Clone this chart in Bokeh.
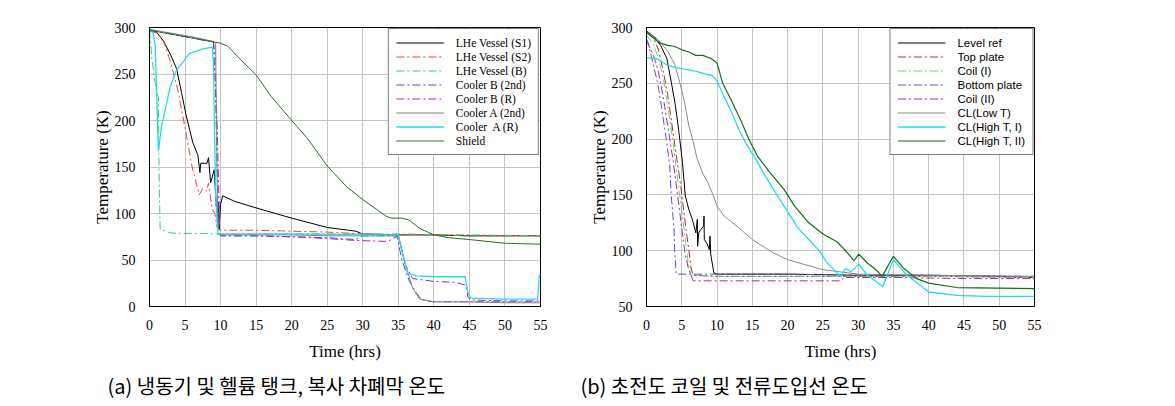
from bokeh.plotting import figure
from bokeh.layouts import row
from bokeh.models import Legend, LegendItem, Title, FixedTicker
from bokeh.embed import file_html
from bokeh.resources import INLINE

# ---------------- Data: panel (a) ----------------
a_s1_t = [0, 1, 2, 3, 3.8, 4.5, 5.2, 6.1, 6.8, 7.1, 7.2, 8.1, 8.3, 8.6, 9.1, 9.4, 9.6, 9.7, 9.8, 10.0, 10.3, 12, 15, 20, 25, 28, 29, 30, 35, 40, 45, 50, 55]
a_s1_T = [297, 295, 285, 270, 256, 230, 204, 176, 163, 144, 154, 154, 160, 133, 147, 108, 100, 112, 84, 110, 119, 113, 106, 95, 85, 82, 81, 78, 77, 77, 76, 76, 76]

a_s2_t = [0, 1, 2, 3, 4, 5, 6, 7, 7.5, 8, 8.3, 8.8, 9.2, 9.5, 10, 15, 20, 25, 30, 35, 40, 45, 50, 55]
a_s2_T = [297, 294, 285, 262, 232, 192, 150, 120, 127, 124, 133, 105, 100, 85, 82, 82, 81, 80, 78, 77, 77, 76, 76, 76]

a_b_t = [0, 0.3, 0.6, 1.0, 1.25, 1.3, 1.4, 1.5, 3, 10, 20, 30, 35, 45, 55]
a_b_T = [297, 270, 250, 230, 225, 167, 120, 83, 79, 78, 78, 78, 78, 77, 76]

a_cb2_t = [0, 3, 6, 9, 9.2, 9.5, 9.8, 10, 15, 20, 25, 29, 30, 34.8, 35.5, 36.5, 37.5, 38.3, 40, 45, 50, 55]
a_cb2_T = [297, 293, 289, 284, 270, 150, 80, 76, 76, 75, 74, 72, 76, 76, 50, 28, 15, 7, 5, 5, 5, 5]

a_cbr_t = [0, 3, 6, 9, 9.1, 9.5, 9.9, 10.2, 15, 20, 25, 29, 33.5, 35, 36, 37, 40, 43, 44.5, 44.8, 45.2, 50, 55]
a_cbr_T = [297, 293, 289, 284, 262, 200, 78, 76, 76, 75, 73, 71, 70, 76, 45, 30, 27, 26, 23, 10, 7, 6, 6]

a_ca2_t = [0, 3, 6, 9, 9.3, 9.6, 10, 15, 20, 25, 30, 35, 36, 37, 38, 40, 45, 50, 55]
a_ca2_T = [298, 294, 290, 285, 283, 78, 77, 77, 77, 76, 76, 76, 45, 20, 8, 5, 5, 4, 4]

a_car_t = [0, 0.5, 0.8, 1.25, 1.7, 2.9, 3.8, 5.6, 7.5, 8.85, 9.0, 9.3, 9.6, 10, 20, 30, 35, 35.5, 36.3, 37.5, 40, 44.4, 44.8, 45.2, 50, 54.6, 54.8, 55]
a_car_T = [296, 295, 280, 167, 194, 236, 254, 272, 277, 279, 260, 120, 78, 78, 78, 77, 77, 60, 36, 33, 32, 32, 15, 9, 8, 8, 33, 33]

a_sh_t = [0, 3, 5, 8, 10, 11, 13, 15, 17.1, 20, 22.2, 25, 27.7, 30, 33.3, 34, 35.5, 36.5, 38, 40, 42, 45, 50, 55]
a_sh_T = [297, 293, 290, 286, 283, 280, 264, 249, 226, 200, 181, 151, 129, 115, 97, 95, 95, 93, 84, 77, 74, 72, 68, 67]

a_labels = ["LHe Vessel (S1)", "LHe Vessel (S2)", "LHe Vessel (B)", "Cooler B (2nd)",
            "Cooler B (R)", "Cooler A (2nd)", "Cooler  A (R)", "Shield"]

# ---------------- Data: panel (b) ----------------
b_lv_t = [0, 1, 2, 2.9, 3.6, 4.1, 4.6, 5.1, 5.5, 6.0, 6.5, 7.0, 7.2, 7.25, 7.4, 7.7, 8.1, 8.15, 8.2, 8.6, 8.9, 9.0, 9.1, 9.55, 10, 20, 30, 40, 50, 55]
b_lv_T = [297, 292, 284, 272, 248, 230, 206, 179, 149, 137, 128, 116, 128, 104, 116, 119, 122, 131, 110, 106, 101, 113, 97, 80, 79, 79, 78, 78, 77, 76]

b_tp_t = [0, 1, 1.7, 2.4, 3.0, 3.4, 3.9, 4.3, 4.8, 5.2, 5.6, 6.0, 6.3, 6.6, 10, 20, 30, 40, 55]
b_tp_T = [295, 291, 280, 260, 240, 222, 200, 182, 161, 140, 119, 101, 85, 78, 77, 77, 77, 77, 76]

b_c1_t = [0, 1, 1.8, 2.5, 3.0, 3.5, 3.9, 4.3, 4.7, 5.1, 5.5, 5.9, 6.3, 10, 20, 30, 40, 55]
b_c1_T = [293, 285, 270, 250, 230, 210, 190, 170, 150, 130, 110, 90, 78, 77, 77, 77, 77, 76]

b_bp_t = [0, 0.3, 0.9, 1.6, 2.1, 2.8, 3.3, 3.5, 3.9, 4.0, 4.2, 10, 20, 30, 40, 55]
b_bp_T = [290, 285, 268, 250, 230, 200, 176, 150, 119, 100, 79, 79, 79, 78, 78, 77]

b_c2_t = [0, 1, 1.7, 2.3, 2.8, 3.3, 3.8, 4.2, 4.6, 5.0, 5.4, 5.9, 6.6, 10, 20, 27.5, 28, 35, 45, 55]
b_c2_T = [288, 275, 260, 240, 220, 200, 180, 160, 140, 120, 100, 85, 73, 73, 73, 73, 76, 76, 75, 75]

b_lt_t = [0, 1.5, 3, 4, 4.7, 5.4, 6, 6.6, 7.2, 8, 8.7, 9.5, 10, 11, 13, 15, 18, 20, 25, 30, 40, 55]
b_lt_T = [297, 290, 279, 267, 251, 233, 212, 198, 182, 169, 161, 149, 140, 131, 121, 110, 98, 92, 83, 79, 78, 77]

b_h1_t = [0, 1.5, 3, 5, 7, 8.5, 9.3, 10, 11, 12, 13, 14.2, 15.5, 17, 18.5, 20, 21.5, 23, 24.5, 25.5, 27, 27.5, 28.2, 29, 30.1, 31.3, 33.5, 35, 36.9, 38.8, 40, 44, 48, 55]
b_h1_T = [273, 272, 266, 263, 261, 258, 257, 252, 238, 225, 210, 195, 182, 165, 150, 135, 120, 110, 100, 90, 80, 77, 84, 81, 88, 78, 68, 92, 78, 69, 63, 60, 59, 59]

b_h2_t = [0, 0.5, 1.5, 2, 3, 4, 5, 6, 7, 8, 9.2, 10, 10.8, 12, 13.5, 14.5, 15.7, 17.5, 19.5, 21, 23, 25, 27, 28.5, 29.4, 30.1, 31.3, 32.7, 33.4, 35, 36.5, 38.3, 40, 44, 55]
b_h2_T = [297, 293, 288, 286, 284, 283, 280, 278, 275, 275, 272, 268, 250, 235, 215, 200, 185, 170, 155, 140, 125, 115, 108, 98, 91, 97, 89, 82, 77, 95, 84, 75, 71, 67, 66]

b_labels = ["Level ref", "Top plate", "Coil (I)", "Bottom plate", "Coil (II)",
            "CL(Low T)", "CL(High T, I)", "CL(High T, II)"]

x_ticks = [0, 5, 10, 15, 20, 25, 30, 35, 40, 45, 50, 55]
ya_ticks = [0, 50, 100, 150, 200, 250, 300]
yb_ticks = [50, 100, 150, 200, 250, 300]

caption_a = "(a) 냉동기 및 헬륨 탱크, 복사 차폐막 온도"
caption_b = "(b) 초전도 코일 및 전류도입선 온도"

SERIF = "Liberation Serif"
SANS = "Liberation Sans"
KFONT = "Noto Sans CJK KR"
DD = "8 3 2 3"


def make_fig(width, left, right, yr, yt):
    p = figure(width=width, height=404, x_range=(0, 55), y_range=yr,
               output_backend="svg", toolbar_location=None,
               min_border_left=left, min_border_right=right,
               min_border_top=27, min_border_bottom=97)
    p.outline_line_color = "black"
    p.outline_line_width = 1
    for ax in (p.xaxis[0], p.yaxis[0]):
        ax.major_tick_line_color = None
        ax.minor_tick_line_color = None
        ax.axis_line_color = "black"
        ax.major_label_text_font = SERIF
        ax.major_label_text_font_size = "14px"
        ax.major_label_text_color = "black"
        ax.axis_label_text_font = SERIF
        ax.axis_label_text_font_size = "17px"
        ax.axis_label_text_font_style = "normal"
        ax.axis_label_text_color = "black"
    p.xaxis.ticker = FixedTicker(ticks=x_ticks)
    p.yaxis.ticker = FixedTicker(ticks=yt)
    p.xaxis.axis_label = "Time (hrs)"
    p.yaxis.axis_label = "Temperature (K)"
    p.xaxis.major_label_standoff = 7
    p.xaxis.axis_label_standoff = 9
    p.yaxis.major_label_standoff = 8
    p.yaxis.axis_label_standoff = 0
    p.xgrid.ticker = FixedTicker(ticks=x_ticks)
    p.ygrid.ticker = FixedTicker(ticks=yt)
    p.grid.grid_line_color = "#c4c4c4"
    p.grid.grid_line_width = 1
    p.background_fill_color = "white"
    p.border_fill_color = "white"
    return p


def add_legend(p, renderers, labels, font):
    items = [LegendItem(label=l, renderers=[r]) for l, r in zip(labels, renderers)]
    lg = Legend(items=items, location="top_right")
    lg.margin = 1
    lg.padding = 7
    lg.spacing = 1
    lg.label_height = 13
    lg.glyph_height = 13
    lg.glyph_width = 48
    lg.label_standoff = 12
    lg.label_text_font = font
    lg.label_text_font_size = "11.5px"
    lg.label_text_color = "black"
    lg.border_line_color = "black"
    lg.border_line_width = 1
    lg.background_fill_color = "white"
    lg.background_fill_alpha = 1
    p.add_layout(lg)


def add_caption(p, text, offset):
    t = Title(text=text, align="left", offset=offset, standoff=10,
              text_font=KFONT, text_font_size="20px", text_font_style="normal",
              text_color="black")
    p.add_layout(t, "below")


# ---------------- Panel (a) ----------------
pa = make_fig(573, 149, 33, (0, 300), ya_ticks)
ra = [
    pa.line(a_s1_t, a_s1_T, line_color="black", line_width=1),
    pa.line(a_s2_t, a_s2_T, line_color="#ee4444", line_width=1, line_dash=DD),
    pa.line(a_b_t, a_b_T, line_color="#33cc77", line_width=1, line_dash=DD),
    pa.line(a_cb2_t, a_cb2_T, line_color="#5544dd", line_width=1, line_dash=DD),
    pa.line(a_cbr_t, a_cbr_T, line_color="#b020c0", line_width=1, line_dash=DD),
    pa.line(a_ca2_t, a_ca2_T, line_color="#808080", line_width=1),
    pa.line(a_car_t, a_car_T, line_color="#22dde6", line_width=1.3),
    pa.line(a_sh_t, a_sh_T, line_color="#2a6e2a", line_width=1),
]
add_legend(pa, ra, a_labels, SERIF)
add_caption(pa, caption_a, -42)

# ---------------- Panel (b) ----------------
pb = make_fig(594, 73, 133, (50, 300), yb_ticks)
rb = [
    pb.line(b_lv_t, b_lv_T, line_color="black", line_width=1),
    pb.line(b_tp_t, b_tp_T, line_color="#b02a2a", line_width=1, line_dash=DD),
    pb.line(b_c1_t, b_c1_T, line_color="#55dd77", line_width=1, line_dash=DD),
    pb.line(b_bp_t, b_bp_T, line_color="#5a50d0", line_width=1, line_dash=DD),
    pb.line(b_c2_t, b_c2_T, line_color="#b020b0", line_width=1, line_dash=DD),
    pb.line(b_lt_t, b_lt_T, line_color="#8a8a8a", line_width=1),
    pb.line(b_h1_t, b_h1_T, line_color="#22dde6", line_width=1.3),
    pb.line(b_h2_t, b_h2_T, line_color="#1a6a1a", line_width=1.2),
]
add_legend(pb, rb, b_labels, SANS)
add_caption(pb, caption_b, -66)

layout = row(pa, pb)
open("out.html", "w").write(file_html(layout, INLINE))
